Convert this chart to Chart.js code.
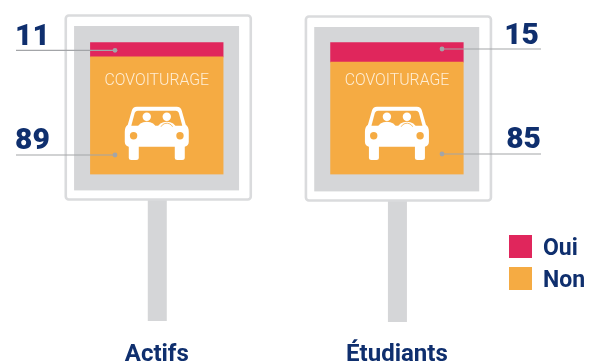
<!DOCTYPE html>
<html>
<head>
<meta charset="utf-8">
<style>
  html, body { margin: 0; padding: 0; background: #fff; }
  #wrap { position: relative; width: 597px; height: 361px; overflow: hidden; }
</style>
<script src="https://cdn.jsdelivr.net/npm/chart.js@4/dist/chart.umd.min.js"></script>
</head>
<body>
<div id="wrap"><canvas id="chart" width="597" height="361"></canvas></div>
<script>
// ===== data =====
const categories = ['Actifs', 'Étudiants'];
const oui = [11, 15];
const non = [89, 85];
const signTitle = 'COVOITURAGE';

// ===== colours =====
const RED = '#e0265c';
const ORANGE = '#f5ab43';
const GREY = '#d5d6d8';
const FRAME = '#dadbdd';
const NAVY = '#0f2f6e';
const LEADER = '#a3a5a8';

const numFont = '900 30px Roboto';
const labelFont = 'bold 23px Roboto';

// rounded box helper
function box(ctx, x, y, w, h, r) {
  ctx.beginPath();
  ctx.roundRect(x, y, w, h, r);
}

// car pictogram, centred on cx, top at y
function drawCar(ctx, cx, y) {
  ctx.save();
  ctx.translate(cx, y);
  ctx.fillStyle = '#fff';
  // roof + windscreen frame
  ctx.beginPath();
  ctx.moveTo(-20, 0);
  ctx.lineTo(20, 0);
  ctx.quadraticCurveTo(24, 0, 25, 4);
  ctx.lineTo(29, 18);
  ctx.quadraticCurveTo(32, 20, 32, 25);
  ctx.lineTo(32, 35);
  ctx.quadraticCurveTo(32, 39, 28, 40);
  ctx.lineTo(-28, 40);
  ctx.quadraticCurveTo(-32, 39, -32, 35);
  ctx.lineTo(-32, 25);
  ctx.quadraticCurveTo(-32, 20, -29, 18);
  ctx.lineTo(-25, 4);
  ctx.quadraticCurveTo(-24, 0, -20, 0);
  ctx.closePath();
  ctx.fill();
  // wheels
  box(ctx, -28, 36, 10, 17.3, 2.5); ctx.fill();
  box(ctx, 18, 36, 10, 17.3, 2.5); ctx.fill();
  // windscreen
  ctx.fillStyle = ORANGE;
  ctx.beginPath();
  ctx.moveTo(-19, 4);
  ctx.lineTo(19, 4);
  ctx.quadraticCurveTo(21, 4, 22, 6);
  ctx.lineTo(25.5, 19);
  ctx.lineTo(-25.5, 19);
  ctx.lineTo(-22, 6);
  ctx.quadraticCurveTo(-21, 4, -19, 4);
  ctx.closePath();
  ctx.fill();
  // passengers
  ctx.fillStyle = '#fff';
  [-10, 10].forEach(px => {
    ctx.beginPath(); ctx.arc(px, 10, 4.2, 0, Math.PI * 2); ctx.fill();
    ctx.beginPath(); ctx.ellipse(px, 21, 9, 6, 0, Math.PI, 0); ctx.fill();
  });
  // steering wheel
  ctx.strokeStyle = ORANGE;
  ctx.lineWidth = 0.8;
  ctx.beginPath(); ctx.arc(10, 23, 6.5, Math.PI * 1.15, Math.PI * 1.85); ctx.stroke();
  // headlights
  ctx.fillStyle = ORANGE;
  [-23.2, 23.2].forEach(px => {
    ctx.beginPath(); ctx.arc(px, 29, 3.7, 0, Math.PI * 2); ctx.fill();
  });
  ctx.restore();
}

// sign frame and post, drawn under the bars
const signBack = {
  id: 'signBack',
  beforeDatasetsDraw(chart) {
    const { ctx, scales } = chart;
    ctx.save();
    categories.forEach((c, i) => {
      const cx = scales.x.getPixelForValue(i);
      const dy = i; // the second sign sits 1px lower
      ctx.fillStyle = GREY;
      ctx.fillRect(cx - 9, 200 + dy, 19, 121);
      ctx.fillStyle = '#fff';
      box(ctx, cx - 91, 15.5 + dy, 185, 184, 3);
      ctx.fill();
      ctx.strokeStyle = FRAME;
      ctx.lineWidth = 2.6;
      ctx.stroke();
      ctx.fillStyle = GREY;
      ctx.fillRect(cx - 82.7, 26 + dy, 165, 164.4);
    });
    ctx.restore();
  }
};

// title, car, leader lines, numbers and legend on top of the bars
const signFront = {
  id: 'signFront',
  afterDatasetsDraw(chart) {
    const { ctx, scales } = chart;
    ctx.save();
    categories.forEach((c, i) => {
      const cx = scales.x.getPixelForValue(i);
      ctx.fillStyle = '#feeed6';
      ctx.font = '300 15.8px Roboto';
      ctx.textAlign = 'center';
      ctx.textBaseline = 'alphabetic';
      ctx.fillText(signTitle, cx, 85);
      drawCar(ctx, cx, 106.7);
    });

    // leader lines
    const leaders = [
      { x1: 16, x2: 115, y: 50.3 },
      { x1: 16, x2: 115, y: 155 },
      { x1: 442, x2: 541, y: 49 },
      { x1: 442, x2: 541, y: 154 }
    ];
    ctx.strokeStyle = LEADER;
    ctx.fillStyle = LEADER;
    ctx.lineWidth = 1.2;
    leaders.forEach((l, i) => {
      ctx.beginPath(); ctx.moveTo(l.x1, l.y); ctx.lineTo(l.x2, l.y); ctx.stroke();
      const dx = i < 2 ? l.x2 : l.x1;
      ctx.beginPath(); ctx.arc(dx, l.y, 2.4, 0, Math.PI * 2); ctx.fill();
    });

    // values
    ctx.fillStyle = NAVY;
    ctx.font = numFont;
    ctx.textAlign = 'left';
    ctx.fillText(String(oui[0]), 15, 45);
    ctx.fillText(String(non[0]), 15, 149);
    ctx.textAlign = 'right';
    ctx.fillText(String(oui[1]), 539, 44);
    ctx.fillText(String(non[1]), 541, 148);

    // legend
    chart.data.datasets.slice().reverse().forEach((ds, i) => {
      const y = 235 + i * 32;
      ctx.fillStyle = ds.backgroundColor;
      ctx.fillRect(509, y, 23, 23);
      ctx.fillStyle = NAVY;
      ctx.font = labelFont;
      ctx.textAlign = 'left';
      ctx.fillText(ds.label, 543, y + 20);
    });
    ctx.restore();
  }
};

new Chart(document.getElementById('chart'), {
  type: 'bar',
  data: {
    labels: categories,
    datasets: [
      { label: 'Non', data: non, backgroundColor: ORANGE, barThickness: 132.7, stack: 's' },
      { label: 'Oui', data: oui, backgroundColor: RED, barThickness: 132.7, stack: 's' }
    ]
  },
  options: {
    responsive: false,
    animation: false,
    layout: { padding: { left: 36.7, right: 80, top: 42.3, bottom: 0 } },
    plugins: { legend: { display: false }, tooltip: { enabled: false } },
    scales: {
      x: {
        stacked: true,
        grid: { display: false },
        border: { display: false },
        ticks: { color: NAVY, font: { family: 'Roboto', size: 24, weight: 'bold' }, padding: 158, maxRotation: 0 },
        // fixed axis box so the bars keep their place
        afterFit(scale) {
          scale.paddingLeft = 0;
          scale.paddingRight = 0;
          scale.height = 186.5;
        }
      },
      y: { stacked: true, display: false, min: 0, max: 100 }
    }
  },
  plugins: [signBack, signFront]
});
</script>
</body>
</html>
